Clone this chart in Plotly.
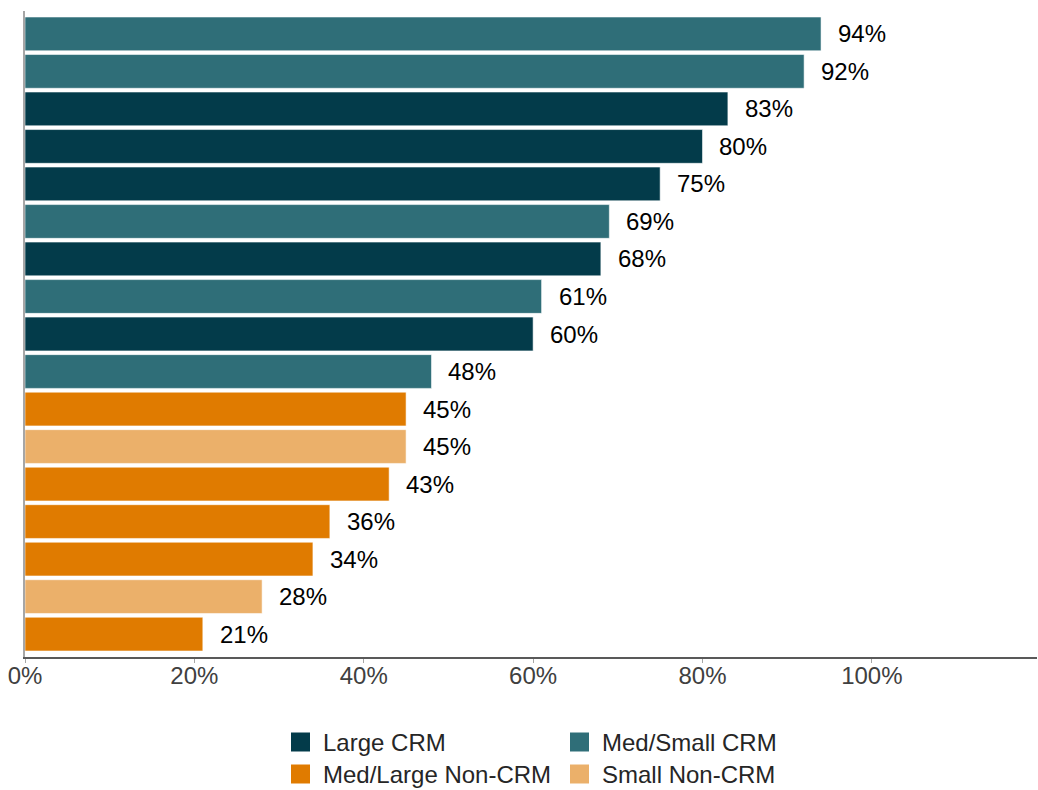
import plotly.graph_objects as go

# Share of respondents, sorted from highest to lowest, with their segment
values = [94, 92, 83, 80, 75, 69, 68, 61, 60, 48, 45, 45, 43, 36, 34, 28, 21]
segments = [
    "Med/Small CRM", "Med/Small CRM", "Large CRM", "Large CRM", "Large CRM",
    "Med/Small CRM", "Large CRM", "Med/Small CRM", "Large CRM", "Med/Small CRM",
    "Med/Large Non-CRM", "Small Non-CRM", "Med/Large Non-CRM", "Med/Large Non-CRM",
    "Med/Large Non-CRM", "Small Non-CRM", "Med/Large Non-CRM",
]
legend_order = ["Large CRM", "Med/Small CRM", "Med/Large Non-CRM", "Small Non-CRM"]
colors = {
    "Large CRM": "#033B4A",
    "Med/Small CRM": "#2F6E78",
    "Med/Large Non-CRM": "#E07B00",
    "Small Non-CRM": "#EBB06A",
}
x_ticks = [0, 20, 40, 60, 80, 100]

W, H = 1038, 790
M_L, M_R, M_T, M_B = 25, 1, 11, 133
FONT = "Liberation Sans, Arial, sans-serif"
FS = 24

fig = go.Figure()
rows = list(range(len(values)))
for seg in legend_order:
    idx = [i for i in rows if segments[i] == seg]
    fig.add_trace(go.Bar(
        orientation="h",
        x=[values[i] / 100 for i in idx],
        y=idx,
        width=0.9,
        marker=dict(color=colors[seg], line=dict(color="rgba(255,255,255,0.55)", width=1)),
        showlegend=False,
        hoverinfo="skip",
    ))

# value labels to the right of each bar
for i, v in enumerate(values):
    fig.add_annotation(
        x=v / 100, y=i, xref="x", yref="y", text=f"{v}%",
        showarrow=False, xanchor="left", yanchor="middle", xshift=15,
        font=dict(family=FONT, size=FS, color="#000000"),
    )

# legend drawn as swatches and labels below the axis
plot_h = H - M_T - M_B
plot_w = W - M_L - M_R


def px_to_paper(px_x, px_y):
    return (px_x - M_L) / plot_w, (H - M_B - px_y) / plot_h


legend_slots = {
    "Large CRM": (291, 742),
    "Med/Small CRM": (570, 742),
    "Med/Large Non-CRM": (291, 774),
    "Small Non-CRM": (570, 774),
}
for seg, (sx, sy) in legend_slots.items():
    x0, y0 = px_to_paper(sx, sy + 9.5)
    x1, y1 = px_to_paper(sx + 19, sy - 9.5)
    fig.add_shape(type="rect", xref="paper", yref="paper", x0=x0, y0=y0, x1=x1, y1=y1,
                  fillcolor=colors[seg], line=dict(width=0))
    tx, ty = px_to_paper(sx + 30, sy)
    fig.add_annotation(x=tx, y=ty, xref="paper", yref="paper", text=seg, showarrow=False,
                       xanchor="left", yanchor="middle",
                       font=dict(family=FONT, size=FS, color="#262626"))

fig.update_layout(
    width=W, height=H,
    margin=dict(l=M_L, r=M_R, t=M_T, b=M_B),
    plot_bgcolor="white", paper_bgcolor="white",
    barmode="overlay",
    xaxis=dict(
        range=[0, 1.195],
        tickvals=[t / 100 for t in x_ticks],
        ticktext=[f"{t}%" for t in x_ticks],
        showgrid=False, zeroline=False,
        showline=True, linecolor="#595959", linewidth=1.5,
        ticks="outside", ticklen=4, tickcolor="#A6A6A6",
        ticklabelstandoff=-8,
        tickfont=dict(family=FONT, size=FS, color="#404040"),
    ),
    yaxis=dict(
        range=[len(values) - 0.39, -0.61],
        showticklabels=False, showgrid=False, zeroline=False,
        showline=True, linecolor="#A6A6A6", linewidth=1.5, ticks="",
    ),
)

fig.write_html("out.html")
